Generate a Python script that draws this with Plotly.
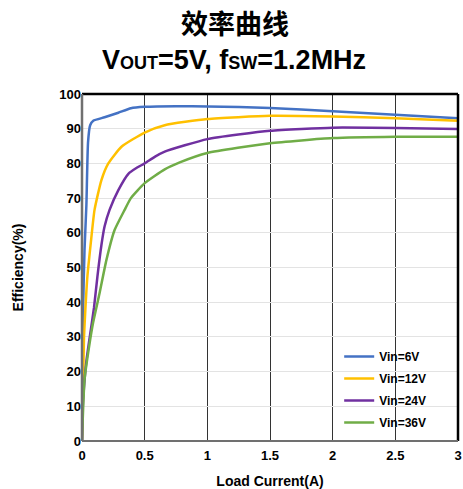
import plotly.graph_objects as go

# ---- data ----
x_6v = [0, 0.004, 0.01, 0.02, 0.035, 0.048, 0.065, 0.09, 0.18, 0.29, 0.39, 0.5, 0.75, 1.0, 1.5, 2.0, 2.5, 3.0]
y_6v = [0, 20, 40, 55, 68, 86, 91, 92.3, 93.3, 94.6, 95.9, 96.3, 96.5, 96.4, 96.0, 95.0, 94.0, 93.0]

x_12v = [0, 0.008, 0.016, 0.027, 0.043, 0.07, 0.1, 0.155, 0.21, 0.315, 0.5, 0.66, 1.0, 1.5, 2.0, 2.5, 3.0]
y_12v = [0, 15, 30, 38, 47.4, 57, 66.6, 75.2, 80, 84.8, 88.9, 91, 92.8, 93.7, 93.5, 93.0, 92.3]

x_24v = [0, 0.005, 0.015, 0.035, 0.062, 0.096, 0.123, 0.155, 0.18, 0.22, 0.29, 0.37, 0.44, 0.5, 0.58, 0.66, 1.0, 1.5, 2.0, 2.5, 3.0]
y_24v = [0, 9, 15, 23, 30, 38.5, 47.4, 56.5, 61.8, 66.6, 72.3, 77.0, 78.8, 80.0, 81.9, 83.4, 87.0, 89.4, 90.3, 90.2, 89.9]

x_36v = [0, 0.02, 0.06, 0.088, 0.14, 0.195, 0.26, 0.34, 0.39, 0.5, 0.66, 0.78, 1.0, 1.5, 2.0, 2.5, 3.0]
y_36v = [0, 17.6, 28, 34, 42.6, 52.2, 60.8, 66.6, 70.0, 74.3, 78.3, 80.3, 83.0, 85.8, 87.3, 87.7, 87.7]

series_names = ["Vin=6V", "Vin=12V", "Vin=24V", "Vin=36V"]
series_colors = ["#4472C4", "#FFC000", "#7030A0", "#70AD47"]
series_x = [x_6v, x_12v, x_24v, x_36v]
series_y = [y_6v, y_12v, y_24v, y_36v]

x_ticks = [0, 0.5, 1, 1.5, 2, 2.5, 3]
x_tick_labels = ["0", "0.5", "1", "1.5", "2", "2.5", "3"]
y_ticks = list(range(0, 101, 10))

FONT = "Liberation Sans, Arial, sans-serif"

fig = go.Figure()
for name, color, xs, ys in zip(series_names, series_colors, series_x, series_y):
    fig.add_trace(go.Scatter(
        x=xs, y=ys, mode="lines", name=f"<b>{name}</b>", legendgroup=name,
        line=dict(color=color, width=2.5, shape="spline", smoothing=0.5),
    ))

fig.update_layout(
    width=463, height=489,
    margin=dict(l=82, r=5, t=94, b=48),
    paper_bgcolor="white", plot_bgcolor="white",
    font=dict(family=FONT, color="black"),
    showlegend=True,
    legend=dict(
        x=0.684, y=0.285, xanchor="left", yanchor="top",
        bgcolor="rgba(0,0,0,0)", borderwidth=0,
        font=dict(family=FONT, size=12, color="black"),
        tracegroupgap=3, itemwidth=30,
    ),
    xaxis=dict(
        range=[0, 3], tickvals=x_ticks, ticktext=[f"<b>{t}</b>" for t in x_tick_labels],
        showgrid=True, gridcolor="#333333", gridwidth=1.2,
        zeroline=False, showline=False, ticks="", automargin=False,
        tickfont=dict(size=13, family=FONT), ticklabelstandoff=5,
        title=dict(text="<b>Load Current(A)</b>", font=dict(size=14, family=FONT), standoff=16),
    ),
    yaxis=dict(
        range=[0, 100], tickvals=y_ticks, ticktext=[f"<b>{t}</b>" for t in y_ticks],
        showgrid=True, gridcolor="#e3e3e3", gridwidth=1,
        zeroline=False, showline=False, ticks="", automargin=False,
        tickfont=dict(size=13, family=FONT),
        title=dict(text="<b>Efficiency(%)</b>", font=dict(size=14, family=FONT), standoff=32),
    ),
    shapes=[
        # white box behind legend
        dict(type="rect", xref="paper", yref="paper", x0=0.665, x1=0.995, y0=0.003, y1=0.29,
             fillcolor="white", line=dict(width=0), layer="between"),
        # frame
        dict(type="line", xref="paper", yref="paper", x0=0, x1=1, y0=1, y1=1, line=dict(color="black", width=2.5)),
        dict(type="line", xref="paper", yref="paper", x0=1, x1=1, y0=0, y1=1, line=dict(color="black", width=2.5)),
        dict(type="line", xref="paper", yref="paper", x0=0, x1=0, y0=0, y1=1, line=dict(color="#707070", width=2.5)),
        dict(type="line", xref="paper", yref="paper", x0=0, x1=1, y0=0, y1=0, line=dict(color="#707070", width=2)),
    ],
    annotations=[
        dict(text="<b>效率曲线</b>", xref="paper", yref="paper", x=0.408, y=1, yshift=72,
             xanchor="center", yanchor="middle", showarrow=False,
             font=dict(family="Noto Sans CJK SC", size=27, color="black")),
        dict(text="<b>V<span style='font-size:18px'>OUT</span>=5V, f<span style='font-size:18px'>SW</span>=1.2MHz</b>",
             xref="paper", yref="paper", x=0.403, y=1, yshift=34,
             xanchor="center", yanchor="middle", showarrow=False,
             font=dict(family=FONT, size=27, color="black")),
    ],
)

fig.write_html("out.html", config={"displayModeBar": False},
               post_script="document.body.style.margin='0px';")
